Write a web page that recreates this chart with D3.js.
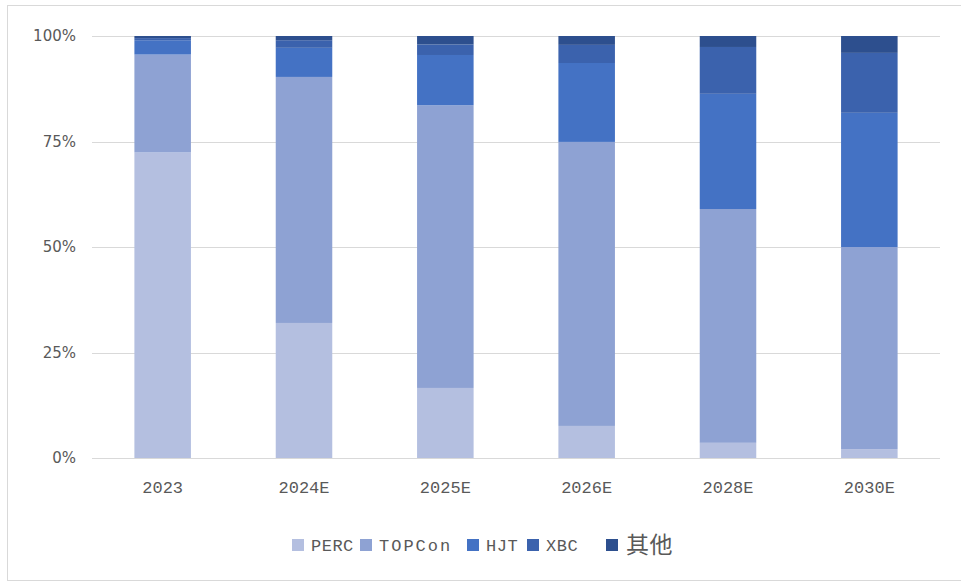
<!DOCTYPE html>
<html>
<head>
<meta charset="utf-8">
<script src="https://cdn.jsdelivr.net/npm/d3@7"></script>
<style>
  body { margin: 0; background: #fff; }
  text { fill: #595959; }
</style>
</head>
<body>
<svg id="chart" width="961" height="583"></svg>
<script>
// categories and shares (%)
const years = ["2023", "2024E", "2025E", "2026E", "2028E", "2030E"];
const seriesNames = ["PERC", "TOPCon", "HJT", "XBC", "其他"];
const perc   = [72.4, 32.0, 16.6, 7.6, 3.6, 2.1];
const topcon = [23.2, 58.3, 67.0, 67.3, 55.4, 47.9];
const hjt    = [3.4, 6.9, 11.9, 18.7, 27.3, 31.8];
const xbc    = [0.5, 1.8, 2.5, 4.3, 11.1, 14.2];
const other  = [0.5, 1.0, 2.0, 2.1, 2.6, 4.0];
const yTicks = [0, 25, 50, 75, 100];
const colors = ["#b4bfe0", "#8ea2d3", "#4472c4", "#3b62ad", "#2d4f8e"];

const svg = d3.select("#chart");
const margin = {left: 92, right: 21, top: 36, bottom: 125};
const width = 961 - margin.left - margin.right;
const height = 583 - margin.top - margin.bottom;

// outer frame
svg.append("rect")
  .attr("x", 7.5).attr("y", 5.5)
  .attr("width", 960).attr("height", 575)
  .attr("fill", "none")
  .attr("stroke", "#d9d9d9");

const g = svg.append("g")
  .attr("transform", `translate(${margin.left},${margin.top})`);

const x = d3.scaleBand().domain(years).range([0, width]).paddingInner(0.6).paddingOuter(0.3);
const y = d3.scaleLinear().domain([0, 100]).range([height, 0]);

// grid lines
g.selectAll(".grid")
  .data(yTicks)
  .enter().append("line")
  .attr("class", "grid")
  .attr("x1", 0).attr("x2", width)
  .attr("y1", d => Math.round(y(d)) + 0.5)
  .attr("y2", d => Math.round(y(d)) + 0.5)
  .attr("stroke", "#d9d9d9");

// y axis labels
const yAxis = g.append("g")
  .call(d3.axisLeft(y).tickValues(yTicks).tickFormat(d => d + "%").tickSize(0).tickPadding(16));
yAxis.select(".domain").remove();
yAxis.selectAll("text")
  .attr("font-family", "DejaVu Sans")
  .attr("font-size", 15)
  .style("fill", "#595959");

// x axis labels
const xAxis = g.append("g")
  .attr("transform", `translate(0,${height})`)
  .call(d3.axisBottom(x).tickSize(0).tickPadding(23));
xAxis.select(".domain").remove();
xAxis.selectAll("text")
  .attr("font-family", "Liberation Mono")
  .attr("font-size", 17)
  .style("fill", "#595959");

// stacked bars
const rows = years.map((yr, i) => ({
  year: yr,
  PERC: perc[i], TOPCon: topcon[i], HJT: hjt[i], XBC: xbc[i], "其他": other[i]
}));
const stacked = d3.stack().keys(seriesNames)(rows);

g.selectAll(".series")
  .data(stacked)
  .enter().append("g")
  .attr("class", "series")
  .attr("fill", (d, i) => colors[i])
  .selectAll("rect")
  .data(d => d)
  .enter().append("rect")
  .attr("x", d => x(d.data.year))
  .attr("width", x.bandwidth())
  .attr("y", d => y(d[1]))
  .attr("height", d => y(d[0]) - y(d[1]));

// legend
const legendX = [292, 360, 467, 527, 606];
const legend = svg.append("g").attr("transform", "translate(0,545)");
seriesNames.forEach((name, i) => {
  const item = legend.append("g").attr("transform", `translate(${legendX[i]},0)`);
  item.append("rect")
    .attr("x", 0).attr("y", -6)
    .attr("width", 12).attr("height", 12)
    .attr("fill", colors[i]);
  item.append("text")
    .attr("x", name === "其他" ? 20 : 19).attr("y", 0)
    .attr("dy", "0.35em")
    .attr("font-family", name === "其他" ? "Noto Sans CJK SC" : "Liberation Mono")
    .attr("font-size", name === "其他" ? 23 : 17)
    .attr("letter-spacing", name === "TOPCon" ? 2 : 0.5)
    .text(name);
});
</script>
</body>
</html>
